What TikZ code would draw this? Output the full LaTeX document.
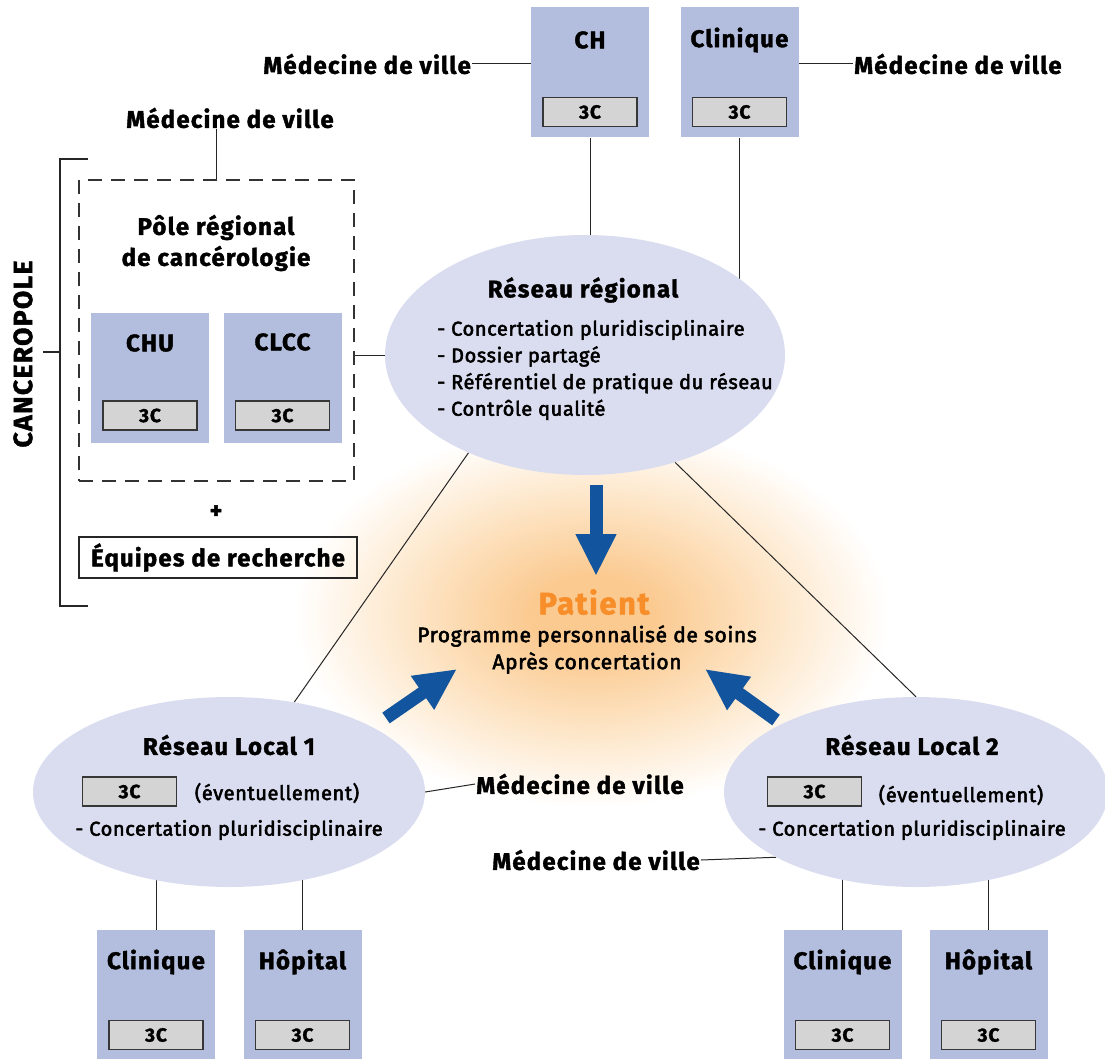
\documentclass[tikz,border=0pt]{standalone}
\usepackage{fontspec}
\setmainfont{Fira Sans}[LetterSpace=5, BoldFeatures={FakeBold=1.6}]
\newfontfamily\mdfont{Fira Sans}[FakeBold=2.6, LetterSpace=3]
\usetikzlibrary{arrows.meta,shapes.geometric}
\definecolor{boxblue}{RGB}{179,190,222}
\definecolor{ellblue}{RGB}{218,221,239}
\definecolor{tcgray}{RGB}{212,212,212}
\definecolor{tcborder}{RGB}{55,55,55}
\definecolor{arrblue}{RGB}{18,84,158}
\definecolor{patorange}{RGB}{247,142,42}
\definecolor{glowc}{RGB}{251,202,145}
\definecolor{glowm}{RGB}{253,228,196}
\pgfdeclareradialshading{glowshade}{\pgfpoint{0bp}{0bp}}{color(0bp)=(glowc); color(5bp)=(glowc); color(14bp)=(glowm); color(24bp)=(white); color(50bp)=(white)}
\pgfdeclarelayer{glowlayer}
\pgfdeclarelayer{bg}
\pgfsetlayers{glowlayer,bg,main}
\begin{document}
\begin{tikzpicture}[x=1pt,y=-1pt,
  ttl/.style={font=\fontsize{24}{31}\selectfont\bfseries, inner sep=1, text=black},
  lst/.style={font=\fontsize{20}{26.7}\selectfont\mdfont, inner sep=1, text=black},
  bluebox/.style={fill=boxblue, draw=none, minimum width=118, minimum height=130, inner sep=0},
  tc/.style={fill=tcgray, draw=tcborder, line width=1.3, minimum width=94, minimum height=29, inner sep=0, font=\fontsize{19}{19}\selectfont\bfseries},
  ell/.style={ellipse, fill=ellblue, draw=none, inner sep=0},
  conn/.style={draw=black!85, line width=1},
  bigarr/.style={draw=arrblue, line width=13, -{Triangle[width=38pt,length=42pt]}},
  dashbox/.style={draw=black!80, line width=1.5, dash pattern=on 14pt off 9pt, minimum width=275, minimum height=301, inner sep=0}
]
\useasboundingbox (0,0) rectangle (1105,1059);

% ---------- top boxes
\node[bluebox] (ch) at (590,72.5) {};
\node[ttl] (cht) at (590,40) {CH};
\node[tc] (ch3) at (590,112) {3C};
\node[bluebox] (clA) at (739.5,72.5) {};
\node[ttl] (clAt) at (739.5,40) {Clinique};
\node[tc] (clA3) at (739.5,112) {3C};
\node[ttl, anchor=east] (mdvA) at (472,64) {Médecine de ville};
\node[ttl, anchor=west] (mdvB) at (853,64) {Médecine de ville};

% ---------- regional network
\node[ell, minimum width=400, minimum height=240] (reg) at (585,355) {};
\node[ttl] (regt) at (583,290) {Réseau régional};
\node[lst, align=left, anchor=west] (regl) at (436,370) {- Concertation pluridisciplinaire\\- Dossier partagé\\- Référentiel de pratique du réseau\\- Contrôle qualité};

% ---------- pole
\node[ttl] (mdvC) at (230,118) {Médecine de ville};
\node[dashbox] (pole) at (216.5,330.5) {};
\node[ttl, align=center] (polet) at (216,243) {Pôle régional\\de cancérologie};
\node[bluebox] (chu) at (150,378) {};
\node[ttl] (chut) at (150,343) {CHU};
\node[tc] (chu3) at (150,415.5) {3C};
\node[bluebox] (clcc) at (282.5,378) {};
\node[ttl] (clcct) at (282.5,342) {CLCC};
\node[tc] (clcc3) at (282.5,415.5) {3C};
\node[ttl] (plus) at (216,512) {+};
\node[ttl, draw=black!85, line width=2, minimum width=278, minimum height=41, inner sep=0] (eq) at (218,557.5) {Équipes de recherche};
\node[ttl, font=\fontsize{26.5}{26.5}\selectfont\bfseries, rotate=90] (canc) at (23,354) {CANCEROPOLE};
\draw[conn, line width=1.3] (88,159) -- (60,159) -- (60,606) -- (88,606);
\draw[conn, line width=1.3] (43,352) -- (60,352);

% ---------- patient
\node[font=\fontsize{31}{31}\selectfont\bfseries, text=patorange, inner sep=1] (pat) at (594,602) {Patient};
\node[lst, font=\fontsize{21}{26}\selectfont\mdfont] (prog) at (587,636) {Programme personnalisé de soins};
\node[lst, font=\fontsize{21}{26}\selectfont\mdfont] (apres) at (587,663) {Après concertation};

% ---------- local 1
\node[ell, minimum width=392, minimum height=190] (loc1) at (229,792) {};
\node[ttl] (loc1t) at (229,745) {Réseau Local 1};
\node[tc] (loc13) at (129.5,791.5) {3C};
\node[lst] (loc1e) at (277,793) {(éventuellement)};
\node[lst] (loc1c) at (229,830) {- Concertation pluridisciplinaire};
\node[ttl] (mdvD) at (580,784) {Médecine de ville};

% ---------- local 2
\node[ell, minimum width=384, minimum height=190] (loc2) at (916,792) {};
\node[ttl] (loc2t) at (912,745) {Réseau Local 2};
\node[tc] (loc23) at (814.5,791.5) {3C};
\node[lst] (loc2e) at (961,795) {(éventuellement)};
\node[lst] (loc2c) at (912,830) {- Concertation pluridisciplinaire};
\node[ttl] (mdvE) at (596,860) {Médecine de ville};

% ---------- bottom boxes
\node[bluebox] (cl2) at (156,995) {};
\node[ttl] (cl2t) at (156,962) {Clinique};
\node[tc] (cl23) at (156,1035) {3C};
\node[bluebox] (hop2) at (302.5,995) {};
\node[ttl] (hop2t) at (302.5,962) {Hôpital};
\node[tc] (hop23) at (302.5,1035) {3C};
\node[bluebox] (cl3) at (842.5,995) {};
\node[ttl] (cl3t) at (842.5,962) {Clinique};
\node[tc] (cl33) at (842.5,1035) {3C};
\node[bluebox] (hop3) at (988.5,995) {};
\node[ttl] (hop3t) at (988.5,962) {Hôpital};
\node[tc] (hop33) at (988.5,1035) {3C};

% ---------- arrows
\coordinate (a1s) at (596,485);
\coordinate (a1e) at (596,576);
\coordinate (a2s) at (386,718);
\coordinate (a2e) at (457,669);
\coordinate (a3s) at (776,720);
\coordinate (a3e) at (705,669);
\draw[bigarr] (a1s) -- (a1e);
\draw[bigarr] (a2s) -- (a2e);
\draw[bigarr] (a3s) -- (a3e);

% ---------- connectors (background)
\begin{pgfonlayer}{bg}
\draw[conn] (mdvA.east) -- (ch.west |- mdvA.east);
\draw[conn] (clA.east |- mdvB.west) -- (mdvB.west);
\draw[conn] (ch.south) -- (ch.south |- reg.center);
\draw[conn] (clA.south) -- (clA.south |- reg.center);
\draw[conn] (pole.north |- mdvC.south) -- (pole.north);
\draw[conn] (pole.east |- reg.west) -- (reg.center);
\draw[conn] (reg.220) -- (loc1.54);
\draw[conn] (reg.310) -- (loc2.north);
\draw[conn] (mdvD.west) -- (loc1.east);
\draw[conn] (mdvE.east) -- (loc2.205);
\draw[conn] (cl2.north) -- (cl2.north |- loc1.center);
\draw[conn] (hop2.north) -- (hop2.north |- loc1.center);
\draw[conn] (cl3.north) -- (cl3.north |- loc2.center);
\draw[conn] (hop3.north) -- (hop3.north |- loc2.center);
\end{pgfonlayer}

\begin{pgfonlayer}{glowlayer}
\shade[shading=glowshade] (592,615) ellipse [x radius=310, y radius=200];
\end{pgfonlayer}
\end{tikzpicture}
\end{document}
